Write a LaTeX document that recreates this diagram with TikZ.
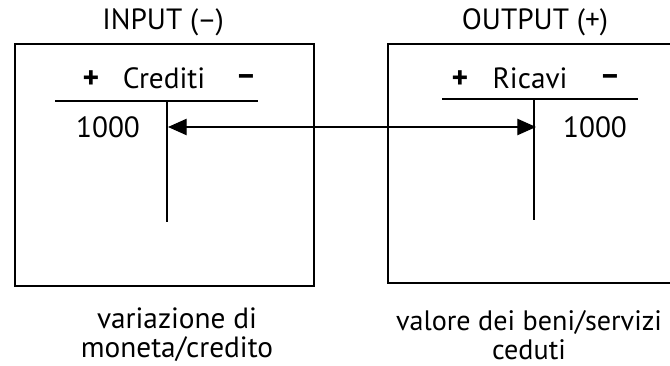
\documentclass[tikz,border=0pt]{standalone}
\usepackage{fontspec}
\setmainfont{PT Sans}
\usetikzlibrary{positioning,arrows.meta}

\begin{document}
\begin{tikzpicture}[x=0.03cm,y=-0.03cm]
\tikzstyle{conto}=[draw, line width=1.7pt]
\tikzstyle{tline}=[line width=1.7pt]
\tikzstyle{lbl}=[inner sep=0pt, font=\fontsize{25}{28}\selectfont]
\tikzstyle{segno}=[inner sep=0pt, font=\fontsize{27}{28}\selectfont\bfseries]
\tikzstyle{didascalia}=[inner sep=0pt, align=center, font=\fontsize{25}{25}\selectfont]
\tikzstyle{freccia}=[line width=1.1pt, {Triangle[length=16pt,width=14pt]}-{Triangle[length=16pt,width=14pt]}]

\useasboundingbox (0,0) rectangle (670,366);

% INPUT
\draw[conto] (15,44) rectangle (314,286);
\node[lbl] (tin) at (163,22) {INPUT (–)};
\node[segno] (cpiu) at (91,80) {+};
\node[lbl] (cnome) at (164,78) {Crediti};
\node[segno] (cmeno) at (246,80) {–};
\node[lbl] (cval) at (108,127) {1000};
\coordinate (cl) at (55,101);
\coordinate (cr) at (258,101);
\coordinate (ct) at (167,101);
\coordinate (cb) at (167,222);
\draw[tline] (cl) -- (cr) (ct) -- (cb);
\node[didascalia] (capin) at (177,335) {variazione di\\moneta/credito};

% OUTPUT
\draw[conto] (388,44) rectangle (680,283);
\node[lbl] (tout) at (535,22) {OUTPUT (+)};
\node[segno] (rpiu) at (460,80) {+};
\node[lbl] (rnome) at (530,78) {Ricavi};
\node[segno] (rmeno) at (610,80) {–};
\node[lbl] (rval) at (595,127) {1000};
\coordinate (rl) at (442,99);
\coordinate (rr) at (638,99);
\coordinate (rt) at (534,99);
\coordinate (rb) at (534,220);
\draw[tline] (rl) -- (rr) (rt) -- (rb);
\node[didascalia, font=\fontsize{24}{25}\selectfont] (capout) at (529,335) {valore dei beni/servizi\\ceduti};

% scambio
\coordinate (pa) at (168,127);
\coordinate (pb) at (536,127);
\draw[freccia] (pa) -- (pb);
\end{tikzpicture}
\end{document}
